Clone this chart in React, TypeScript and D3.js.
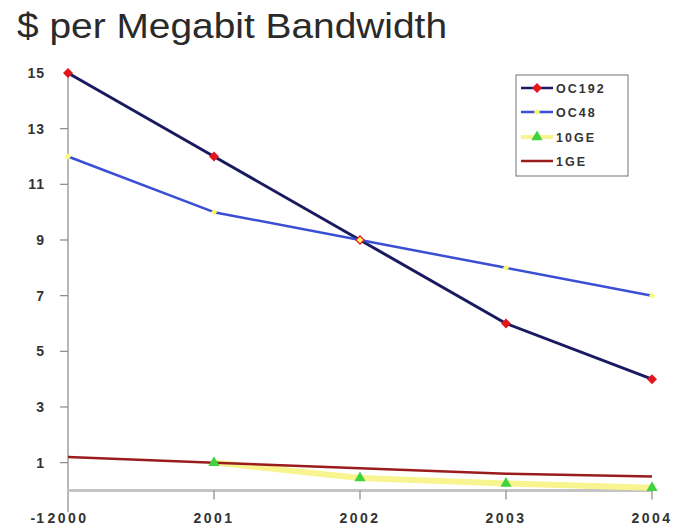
import React from "react";
import * as d3 from "d3";

const years = [2000, 2001, 2002, 2003, 2004];
const oc192 = [15, 12, 9, 6, 4];
const oc48 = [12, 10, 9, 8, 7];
const ge10: (number | null)[] = [null, 1.0, 0.45, 0.25, 0.1];
const ge1 = [1.2, 1.0, 0.8, 0.6, 0.5];
const yTicks = [15, 13, 11, 9, 7, 5, 3, 1, -1];
const seriesNames = ["OC192", "OC48", "10GE", "1GE"];
const title = "$ per Megabit Bandwidth";

const W = 677;
const H = 532;
const FONT = "'Liberation Sans', Arial, sans-serif";

export default function App() {
  const x = d3.scaleLinear().domain([2000, 2004]).range([68, 652]);
  const y = d3.scaleLinear().domain([-1, 15]).range([518.3, 73]);

  const line = d3
    .line<number | null>()
    .defined((d) => d != null)
    .x((_, i) => x(years[i]))
    .y((d) => y(d as number));

  const diamond = d3.symbol().type(d3.symbolSquare).size(50)() as string;
  const smallSq = d3.symbol().type(d3.symbolSquare).size(20)() as string;
  const tri = d3.symbol().type(d3.symbolTriangle).size(55)() as string;

  const series = [
    { name: seriesNames[0], data: oc192 as (number | null)[], stroke: "#1a1a60", width: 3, marker: diamond, rot: 45, mfill: "#e3161c" },
    { name: seriesNames[1], data: oc48 as (number | null)[], stroke: "#3a4fd4", width: 2.5, marker: smallSq, rot: 45, mfill: "#fbfb70" },
    { name: seriesNames[2], data: ge10, stroke: "#f8f490", width: 6, marker: tri, rot: 0, mfill: "#3fd43f" },
    { name: seriesNames[3], data: ge1 as (number | null)[], stroke: "#9a1c1c", width: 2.5, marker: null as string | null, rot: 0, mfill: "" },
  ];

  const lineOrder = [2, 3, 0, 1];
  const legendY = [88, 112, 137, 161];

  return (
    <svg width={W} height={H} style={{ position: "absolute", left: 0, top: 0, background: "#fff" }} fontFamily={FONT}>
      <rect x={0} y={0} width={W} height={H} fill="#fff" />
      <text x={17} y={38} fontSize={35} fill="#2a2a2a" textLength={430} lengthAdjust="spacingAndGlyphs">
        {title}
      </text>

      {/* y axis */}
      <line x1={x(2000)} x2={x(2000)} y1={y(15)} y2={y(-1) - 6} stroke="#888" strokeWidth={1.2} />
      {yTicks.map((t) => (
        <g key={t}>
          {t !== 15 && t !== -1 && (
            <line x1={x(2000) - 8} x2={x(2000)} y1={y(t)} y2={y(t)} stroke="#888" strokeWidth={1.2} />
          )}
          <text x={45} y={y(t)} dy="0.35em" textAnchor="end" fontSize={14} fontWeight="bold" fill="#333" letterSpacing={1}>
            {t}
          </text>
        </g>
      ))}

      {/* zero line / category axis */}
      <line x1={x(2000)} x2={x(2004)} y1={y(0)} y2={y(0)} stroke="#c4c4c4" strokeWidth={3} />
      {years.map((yr) => (
        <g key={yr}>
          {yr !== 2000 && <line x1={x(yr)} x2={x(yr)} y1={y(0)} y2={y(0) + 9} stroke="#888" strokeWidth={1.2} />}
          <text x={x(yr)} y={y(-1)} dy="0.35em" textAnchor="middle" fontSize={14} fontWeight="bold" fill="#333" letterSpacing={2.5}>
            {yr}
          </text>
        </g>
      ))}

      {/* lines */}
      {lineOrder.map((i) => {
        const s = series[i];
        return (
          <path key={s.name} d={line(s.data) || ""} fill="none" stroke={s.stroke} strokeWidth={s.width} strokeLinejoin="round" />
        );
      })}
      {/* markers */}
      {lineOrder.map((i) => {
        const s = series[i];
        if (!s.marker) return null;
        return (
          <g key={s.name + "m"}>
            {s.data.map((d, j) =>
              d == null ? null : (
                <path
                  key={j}
                  d={s.marker as string}
                  transform={`translate(${x(years[j])},${y(d)}) rotate(${s.rot})`}
                  fill={s.mfill}
                  stroke="none"
                />
              )
            )}
          </g>
        );
      })}

      {/* legend */}
      <rect x={516} y={75} width={112} height={101} fill="#fff" stroke="#8a8a8a" strokeWidth={1.2} />
      {series.map((s, i) => (
        <g key={s.name + "l"} transform={`translate(0,${legendY[i]})`}>
          <line x1={521} x2={553} y1={0} y2={0} stroke={s.stroke} strokeWidth={s.width > 3 ? 4 : 2.5} />
          {s.marker && <path d={s.marker} transform={`translate(537,0) rotate(${s.rot})`} fill={s.mfill} />}
          <text x={556} y={0} dy="0.36em" fontSize={12.5} fontWeight="bold" fill="#333" letterSpacing={2}>
            {s.name}
          </text>
        </g>
      ))}
    </svg>
  );
}
